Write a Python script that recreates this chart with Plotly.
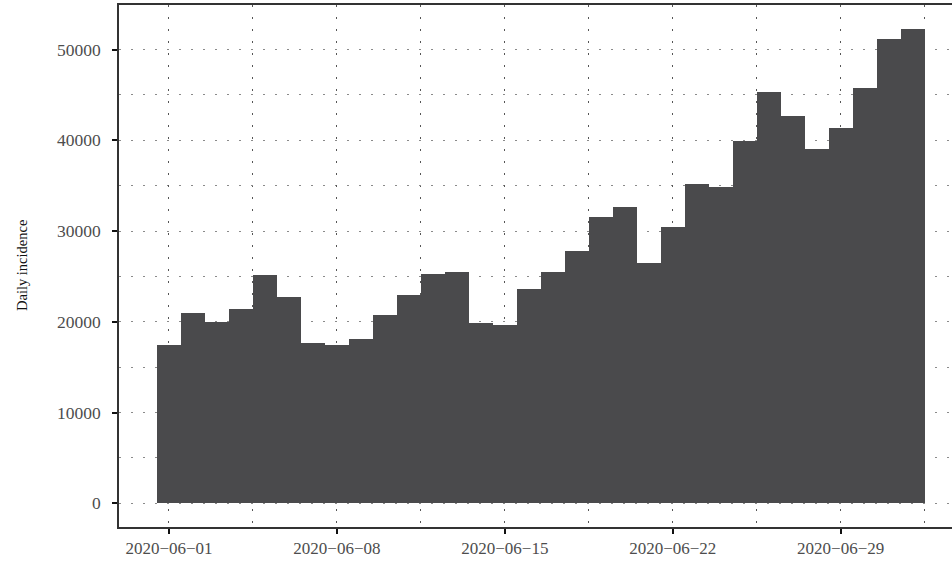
import plotly.graph_objects as go
import pandas as pd

dates = pd.date_range("2020-06-01", "2020-07-02", freq="D").strftime("%Y-%m-%d").tolist()
incidence = [17400, 21000, 20000, 21400, 25200, 22700, 17700, 17400, 18100, 20800,
             22900, 25300, 25500, 19900, 19600, 23600, 25500, 27800, 31500, 32700,
             26500, 30500, 35200, 34900, 39900, 45300, 42700, 39100, 41400, 45800,
             51200, 52300]
x_ticks = ["2020-06-01", "2020-06-08", "2020-06-15", "2020-06-22", "2020-06-29"]
y_ticks = [0, 10000, 20000, 30000, 40000, 50000]
y_title = "Daily incidence"

X_RANGE = ["2020-05-29 22:00", "2020-07-03 15:20"]
Y_RANGE = [-2615, 54915]
DAY_MS = 86400000
FONT = "Liberation Serif"
DASH = "1.5px,10.5px"
ML = 119
PLOT_W = 952 - ML

fig = go.Figure()
fig.add_trace(go.Bar(x=dates, y=incidence, width=DAY_MS, marker=dict(color="#4a4a4c", line=dict(width=0)),
                     showlegend=False))

fig.update_layout(
    width=952, height=561,
    margin=dict(l=ML, r=0, t=5, b=34, autoexpand=False),
    paper_bgcolor="white", plot_bgcolor="white",
    bargap=0,
    xaxis=dict(type="date", range=X_RANGE, automargin=False,
               tickvals=x_ticks, tickformat="%Y\u2212%m\u2212%d",
               showgrid=True, gridcolor="#555555", griddash=DASH, gridwidth=1,
               minor=dict(dtick=DAY_MS * 3.5, tick0="2020-06-01", showgrid=True,
                          gridcolor="#555555", griddash=DASH, gridwidth=1, ticks=""),
               showline=True, linecolor="#333333", linewidth=1.5, mirror=True,
               ticks="outside", ticklen=5, tickwidth=2, tickcolor="#111111",
               tickfont=dict(family=FONT, size=17, color="#4d4d4d"), ticklabelstandoff=0,
               zeroline=False),
    yaxis=dict(range=Y_RANGE, automargin=False,
               tickvals=y_ticks, tickformat="d",
               showgrid=True, gridcolor="#8a8a8a", griddash=DASH, gridwidth=1,
               minor=dict(dtick=5000, tick0=0, showgrid=True,
                          gridcolor="#8a8a8a", griddash=DASH, gridwidth=1, ticks=""),
               showline=True, linecolor="#333333", linewidth=1.5,
               ticks="outside", ticklen=5, tickwidth=2, tickcolor="#111111",
               tickfont=dict(family=FONT, size=17.5, color="#4d4d4d"), ticklabelstandoff=8,
               zeroline=False),
    annotations=[dict(text=y_title, textangle=-90, xref="paper", yref="paper",
                      x=(22 - ML) / PLOT_W, y=0.5, xanchor="center", yanchor="middle",
                      showarrow=False, font=dict(family=FONT, size=14.5, color="#111111"))],
)

fig.write_html("out.html", post_script="document.body.style.margin='0';",
               config={"displayModeBar": False})
